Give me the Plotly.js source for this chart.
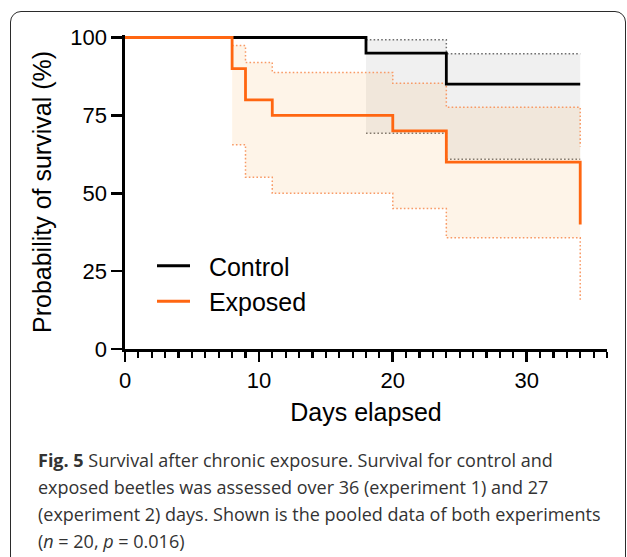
<!DOCTYPE html>
<html>
<head>
<meta charset="utf-8">
<script src="https://cdn.plot.ly/plotly-3.0.1.min.js"></script>
<style>
  html, body { margin: 0; padding: 0; background: #ffffff; }
  #wrap { position: relative; width: 627px; height: 557px; overflow: hidden; }
  #frame { position: absolute; left: 10px; top: 11px; width: 616px; height: 560px;
           border: 1.5px solid #2b2b2b; border-radius: 11px; box-sizing: border-box; }
  #chart { position: absolute; left: 0; top: 0; width: 627px; height: 557px; }
</style>
</head>
<body>
<div id="wrap">
  <div id="frame"></div>
  <div id="chart"></div>
</div>
<script>
// ---- data ----
const controlDays     = [0, 18, 24, 34];
const controlSurv     = [100, 95, 85, 85];
const controlCIDays   = [18, 24, 34];
const controlCIUpper  = [99.3, 94.8, 94.8];
const controlCILower  = [69.3, 60.9, 60.9];

const exposedDays     = [0, 8, 9, 11, 20, 24, 34];
const exposedSurv     = [100, 90, 80, 75, 70, 60, 40];
const exposedCIDays   = [8, 9, 11, 20, 24, 34];
const exposedCIUpper  = [97.4, 92.0, 88.8, 85.3, 77.6, 65.0];
const exposedCILower  = [65.6, 55.1, 50.0, 45.1, 35.7, 15.2];

const seriesNames = ['Control', 'Exposed'];
const xTickVals = [0, 10, 20, 30];
const yTickVals = [0, 25, 50, 75, 100];
const captionLines = [
  "<b>Fig. 5</b> Survival after chronic exposure. Survival for control and",
  "exposed beetles was assessed over 36 (experiment 1) and 27",
  "(experiment 2) days. Shown is the pooled data of both experiments",
  "(<i>n</i> = 20, <i>p</i> = 0.016)"
];

const BLACK = '#000000';
const ORANGE = '#ff6611';
const NB = '\u00a0\u00a0';

const traces = [
  { x: controlCIDays, y: controlCILower, type: 'scatter', mode: 'lines',
    line: { shape: 'hv', color: '#6f6f6f', width: 1.5, dash: '1.6px,2.2px' },
    showlegend: false, hoverinfo: 'skip' },
  { x: controlCIDays, y: controlCIUpper, type: 'scatter', mode: 'lines',
    line: { shape: 'hv', color: '#6f6f6f', width: 1.5, dash: '1.6px,2.2px' },
    fill: 'tonexty', fillcolor: 'rgba(0,0,0,0.06)',
    showlegend: false, hoverinfo: 'skip' },
  { x: exposedCIDays, y: exposedCILower, type: 'scatter', mode: 'lines',
    line: { shape: 'hv', color: '#f89a66', width: 1.5, dash: '1.6px,2.2px' },
    showlegend: false, hoverinfo: 'skip' },
  { x: exposedCIDays, y: exposedCIUpper, type: 'scatter', mode: 'lines',
    line: { shape: 'hv', color: '#f89a66', width: 1.5, dash: '1.6px,2.2px' },
    fill: 'tonexty', fillcolor: 'rgba(248,178,100,0.15)',
    showlegend: false, hoverinfo: 'skip' },
  { x: controlDays, y: controlSurv, type: 'scatter', mode: 'lines', name: NB + seriesNames[0],
    legendgroup: 'c', line: { shape: 'hv', color: BLACK, width: 2.8 } },
  { x: exposedDays, y: exposedSurv, type: 'scatter', mode: 'lines', name: NB + seriesNames[1],
    legendgroup: 'e', line: { shape: 'hv', color: ORANGE, width: 2.8 } }
];

const L = 125, T = 35, B = 208, R = 20;
const plotH = 557 - T - B;   // 314
const toPaperY = py => (557 - B - py) / plotH;
const toPaperX = px => (px - L) / (627 - L - R);

const annotations = captionLines.map((t, i) => ({
  text: t, xref: 'paper', yref: 'paper',
  x: toPaperX(36), y: toPaperY(460 + i * 27),
  xanchor: 'left', yanchor: 'middle', showarrow: false, align: 'left',
  font: { family: 'Open Sans, Noto Sans, sans-serif', size: 18, color: '#333333' }
}));

const layout = {
  width: 627, height: 557,
  margin: { l: L, r: R, t: T, b: B, pad: 0 },
  paper_bgcolor: 'rgba(0,0,0,0)', plot_bgcolor: 'rgba(0,0,0,0)',
  font: { family: 'Liberation Sans, Arial, sans-serif', color: '#000' },
  showlegend: true,
  legend: { x: toPaperX(152), y: toPaperY(243), xanchor: 'left', yanchor: 'top',
            bgcolor: 'rgba(0,0,0,0)', font: { size: 25, color: '#000' },
            traceorder: 'normal', itemwidth: 33, tracegroupgap: 4 },
  xaxis: {
    range: [0, 36], showgrid: false, zeroline: false,
    showline: true, linecolor: '#000', linewidth: 2.6,
    ticks: 'outside', ticklen: 10, tickwidth: 2.6, tickcolor: '#000',
    tickvals: xTickVals, ticktext: xTickVals.map(String),
    tickfont: { size: 22 },
    minor: { dtick: 1, tick0: 0, ticks: 'outside', ticklen: 6, tickwidth: 2.2, tickcolor: '#000', showgrid: false },
    title: { text: 'Days elapsed', font: { size: 25 }, standoff: 12 }
  },
  yaxis: {
    range: [0, 100.8], showgrid: false, zeroline: false,
    showline: true, linecolor: '#000', linewidth: 2.6,
    ticks: 'outside', ticklen: 11, tickwidth: 2.6, tickcolor: '#000',
    tickvals: yTickVals, ticktext: yTickVals.map(String),
    tickfont: { size: 22 },
    title: { text: 'Probability of survival (%)', font: { size: 25 }, standoff: 12 }
  },
  annotations: annotations
};

Plotly.newPlot('chart', traces, layout, { displayModeBar: false, staticPlot: true });
</script>
</body>
</html>
